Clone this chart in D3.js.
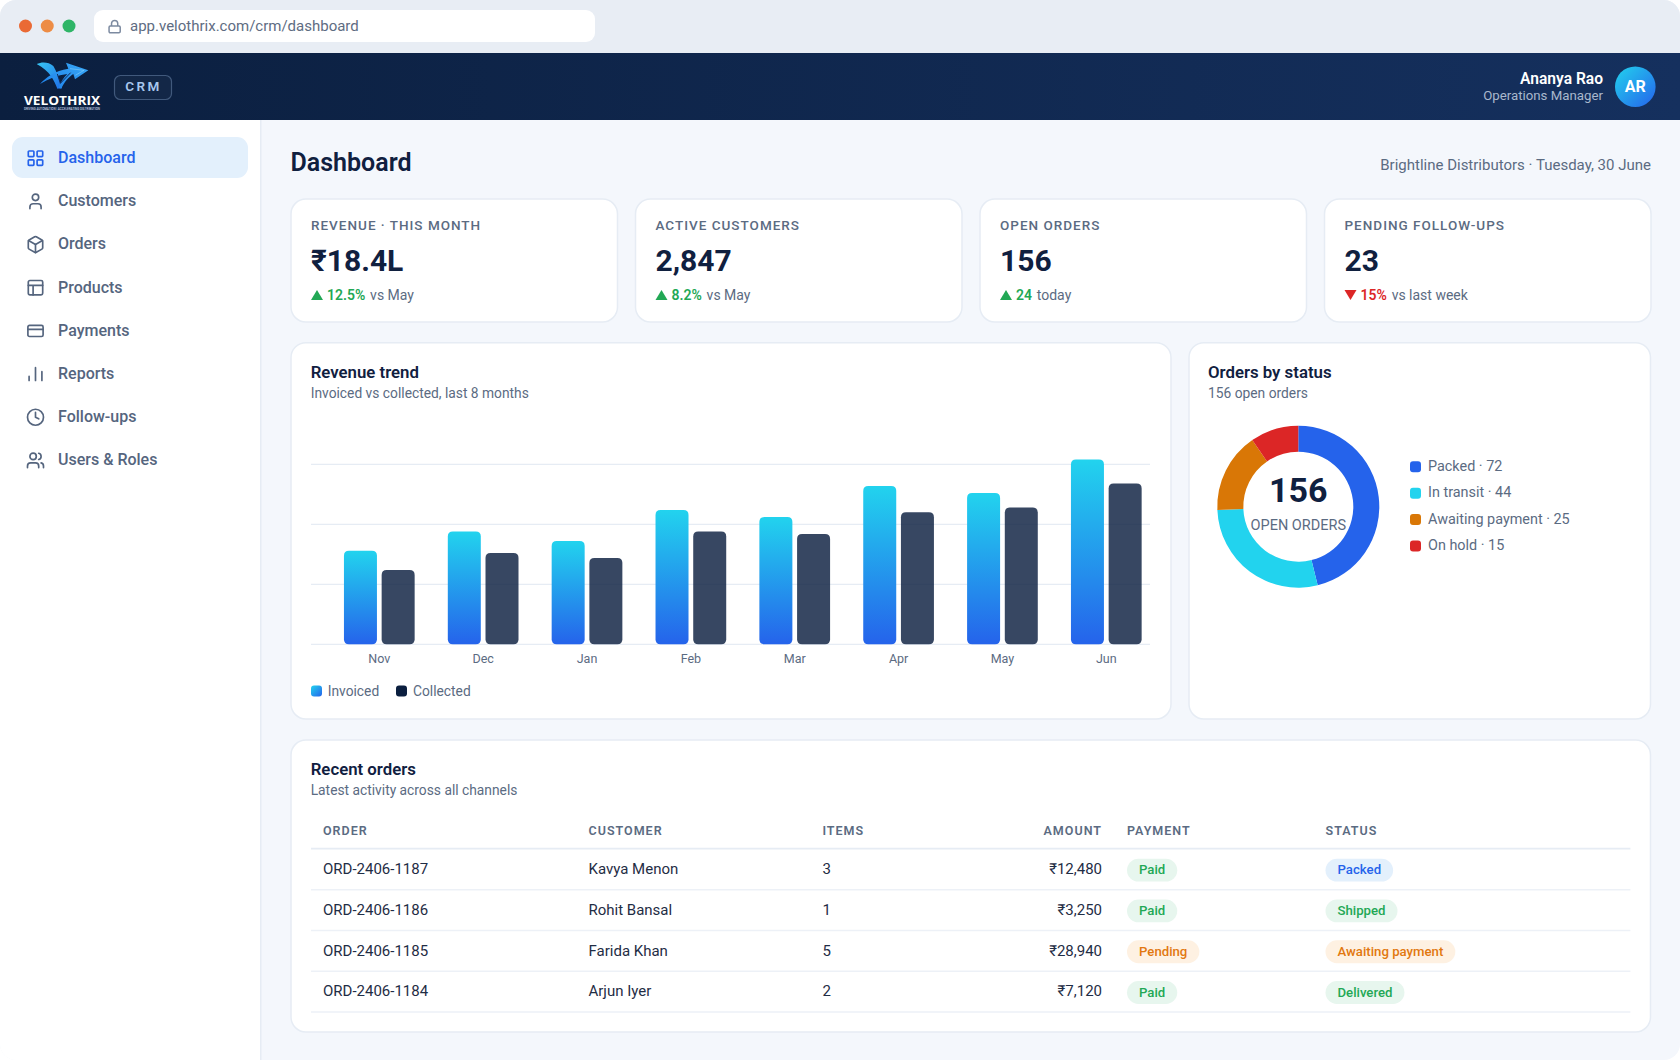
<!DOCTYPE html>
<html>
<head>
<meta charset="utf-8">
<script src="https://cdn.jsdelivr.net/npm/d3@7"></script>
<style>
html,body{margin:0;padding:0;background:#fff}
svg{display:block;font-family:Roboto,sans-serif}
</style>
</head>
<body>
<svg id="app" width="1680" height="1060" viewBox="0 0 1680 1060"></svg>
<script>
// ---- data ----
const months = ["Nov","Dec","Jan","Feb","Mar","Apr","May","Jun"];
const invoiced = [7.8,9.4,8.6,11.2,10.6,13.2,12.6,15.4];
const collected = [6.2,7.6,7.2,9.4,9.2,11.0,11.4,13.4];
const gridTicks = [0,5,10,15];
const statusLabels = ["Packed","In transit","Awaiting payment","On hold"];
const statusValues = [72,44,25,15];
const statusColors = ["#2563eb","#22d3ee","#d97706","#dc2626"];
const navLabels = ["Dashboard","Customers","Orders","Products","Payments","Reports","Follow-ups","Users & Roles"];
const kpiLabels = ["REVENUE · THIS MONTH","ACTIVE CUSTOMERS","OPEN ORDERS","PENDING FOLLOW-UPS"];
const kpiValues = ["₹18.4L","2,847","156","23"];
const kpiDeltas = ["12.5%","8.2%","24","15%"];
const kpiNotes = ["vs May","vs May","today","vs last week"];
const kpiUp = [true,true,true,false];
const tableHeads = ["ORDER","CUSTOMER","ITEMS","AMOUNT","PAYMENT","STATUS"];
const orderIds = ["ORD-2406-1187","ORD-2406-1186","ORD-2406-1185","ORD-2406-1184"];
const orderCustomers = ["Kavya Menon","Rohit Bansal","Farida Khan","Arjun Iyer"];
const orderItems = ["3","1","5","2"];
const orderAmounts = ["₹12,480","₹3,250","₹28,940","₹7,120"];
const orderPayments = ["Paid","Paid","Pending","Paid"];
const orderStatuses = ["Packed","Shipped","Awaiting payment","Delivered"];

// ---- palette ----
const INK="#10203f", MUTED="#5b6b82", LINE="#e6ecf4", BG="#f4f7fc", GREEN="#22a855", RED="#dc2626";
const pillStyle = {Paid:["#e7f6ee",GREEN],Shipped:["#e7f6ee",GREEN],Delivered:["#e7f6ee",GREEN],
  Pending:["#fef1e2","#e2780f"],"Awaiting payment":["#fef1e2","#e2780f"],Packed:["#e3f0fc","#2563eb"]};

const svg = d3.select("#app");
const defs = svg.append("defs");
function grad(id,x1,y1,x2,y2,stops){
  const g=defs.append("linearGradient").attr("id",id).attr("x1",x1).attr("y1",y1).attr("x2",x2).attr("y2",y2);
  stops.forEach((c,i)=>g.append("stop").attr("offset",i/(stops.length-1)).attr("stop-color",c));
}
grad("hdr",0,0,1,0,["#0b1f3f","#15305e"]);
grad("barG",0,0,0,1,["#22d3ee","#2563eb"]);
grad("avatar",0,0,1,1,["#22d3ee","#2563eb"]);
grad("swatch",0,0,1,1,["#22d3ee","#2563eb"]);
grad("logoA",0,0,1,1,["#38c6f4","#1f6fe8"]);
grad("logoB",0,1,1,0,["#1d7fe8","#38a8f8"]);
defs.append("clipPath").attr("id","win").append("rect").attr("width",1680).attr("height",1060).attr("rx",16);

function txt(parent,x,y,s,o={}){
  const t=parent.append("text").attr("x",x).attr("y",y-0.6).attr("dominant-baseline","central")
    .attr("font-size",o.size||14).attr("font-weight",o.weight||400).attr("fill",o.fill||MUTED)
    .attr("text-anchor",o.anchor||"start").text(s);
  if(o.ls) t.attr("letter-spacing",o.ls);
  return t;
}
function card(parent,x,y,w,h){
  parent.append("rect").attr("x",x).attr("y",y).attr("width",w).attr("height",h).attr("rx",15)
    .attr("fill","#fff").attr("stroke",LINE).attr("stroke-width",1.5);
}

const root = svg.append("g").attr("clip-path","url(#win)");
root.append("rect").attr("width",1680).attr("height",1060).attr("fill",BG);

// ---- browser chrome ----
root.append("rect").attr("width",1680).attr("height",53).attr("fill","#e8edf4");
const dotX=d3.scalePoint().domain(["#ea6a35","#ed8c45","#2fb567"]).range([25.5,69]);
root.selectAll(".dot").data(dotX.domain()).join("circle").attr("cx",d=>dotX(d)).attr("cy",26).attr("r",6.5).attr("fill",d=>d);
root.append("rect").attr("x",94).attr("y",10).attr("width",501).attr("height",32).attr("rx",9).attr("fill","#fff");
const lock=root.append("g").attr("transform","translate(107.2,19.2) scale(0.62)").attr("fill","none").attr("stroke","#7c8aa0").attr("stroke-width",2.4);
lock.append("rect").attr("x",3).attr("y",11).attr("width",18).attr("height",11).attr("rx",2);
lock.append("path").attr("d","M7 11V7a5 5 0 0 1 10 0v4");
txt(root,130,26.6,"app.velothrix.com/crm/dashboard",{size:15,fill:"#5e6c82"});

// ---- header ----
root.append("rect").attr("y",53).attr("width",1680).attr("height",67).attr("fill","url(#hdr)");
const logo=root.append("g").attr("transform","translate(20,58) scale(0.3333)");
logo.append("path").attr("fill","url(#logoA)").attr("d","M50 18 C65 11 86 11 100 24 C110 40 118 65 126 90 L112 92 C104 70 90 38 50 18Z");
logo.append("path").attr("fill","url(#logoB)").attr("d","M60 78 C78 58 105 38 145 32 L138 14 L205 37 L165 64 L160 48 C148 56 132 72 124 92 L116 90 C122 72 130 60 142 48 C112 52 85 62 60 78Z");
logo.append("path").attr("fill","none").attr("stroke","#0f2a5c").attr("stroke-width",3).attr("d","M112 48 L121 76 L152 44");
logo.append("path").attr("fill","none").attr("stroke","#8fd6fa").attr("stroke-width",1.6).attr("d","M150 32 L192 37 L166 52");
txt(root,62,100.8,"VELOTHRIX",{size:12.5,weight:700,fill:"#fff",anchor:"middle"}).attr("font-family","'Open Sans',sans-serif").attr("textLength",76).attr("lengthAdjust","spacingAndGlyphs");
txt(root,62,109.6,"DRIVING AUTOMATION | ACCELERATING DISTRIBUTION",{size:3.6,weight:500,fill:"#c9d6e8",anchor:"middle"}).attr("textLength",76).attr("lengthAdjust","spacingAndGlyphs");
root.append("rect").attr("x",114.5).attr("y",75.5).attr("width",57).attr("height",24).attr("rx",6)
  .attr("fill","#ffffff").attr("fill-opacity",0.03).attr("stroke","#41597c").attr("stroke-width",1.2);
txt(root,143.5,87,"CRM",{size:13.5,weight:600,fill:"#a8c8ee",anchor:"middle",ls:2.4});
txt(root,1603,79.4,"Ananya Rao",{size:15.6,weight:600,fill:"#fff",anchor:"end"});
txt(root,1603,95.6,"Operations Manager",{size:13.25,fill:"#a9b8cd",anchor:"end"});
root.append("circle").attr("cx",1635.3).attr("cy",86.7).attr("r",20.3).attr("fill","url(#avatar)");
txt(root,1635.3,87.4,"AR",{size:16,weight:700,fill:"#fff",anchor:"middle"});

// ---- sidebar ----
root.append("rect").attr("y",120).attr("width",260).attr("height",940).attr("fill","#fff");
root.append("rect").attr("x",260).attr("y",120).attr("width",1.5).attr("height",940).attr("fill",LINE);
root.append("rect").attr("x",12).attr("y",137).attr("width",236).attr("height",41).attr("rx",11).attr("fill","#e3f0fc");
const navY=d3.scalePoint().domain(navLabels).range([158.2,460.4]);
const iconDraw=[
 g=>[[3,3],[14,3],[14,14],[3,14]].forEach(p=>g.append("rect").attr("x",p[0]).attr("y",p[1]).attr("width",7).attr("height",7).attr("rx",1)),
 g=>{g.append("path").attr("d","M19 21v-2a4 4 0 0 0-4-4H9a4 4 0 0 0-4 4v2");g.append("circle").attr("cx",12).attr("cy",7).attr("r",4);},
 g=>{["M21 8a2 2 0 0 0-1-1.73l-7-4a2 2 0 0 0-2 0l-7 4A2 2 0 0 0 3 8v8a2 2 0 0 0 1 1.73l7 4a2 2 0 0 0 2 0l7-4A2 2 0 0 0 21 16Z","m3.3 7 8.7 5 8.7-5","M12 22V12"].forEach(d=>g.append("path").attr("d",d));},
 g=>{g.append("rect").attr("x",3).attr("y",3).attr("width",18).attr("height",18).attr("rx",2);g.append("path").attr("d","M3 9h18M9 21V9");},
 g=>{g.append("rect").attr("x",2.5).attr("y",5).attr("width",19).attr("height",14).attr("rx",2);g.append("path").attr("d","M2.5 10h19");},
 g=>{g.append("path").attr("d","M4 20v-5M12 20V4M20 20V9");},
 g=>{g.append("circle").attr("cx",12).attr("cy",12).attr("r",10);g.append("path").attr("d","M12 6v6l4 2");},
 g=>{["M16 21v-2a4 4 0 0 0-4-4H6a4 4 0 0 0-4 4v2","M22 21v-2a4 4 0 0 0-3-3.87","M16 3.13a4 4 0 0 1 0 7.75"].forEach(d=>g.append("path").attr("d",d));g.append("circle").attr("cx",9).attr("cy",7).attr("r",4);}
];
navLabels.forEach((n,i)=>{
  const active=i===0, c=active?"#2563eb":"#55657e";
  const g=root.append("g").attr("transform",`translate(${35.5-9.6},${navY(n)-9.6}) scale(0.8)`)
    .attr("fill","none").attr("stroke",c).attr("stroke-width",2.1).attr("stroke-linecap","round").attr("stroke-linejoin","round");
  iconDraw[i](g);
  txt(root,58,navY(n),n,{size:16,weight:500,fill:c});
});

// ---- page title ----
txt(root,290.5,162.6,"Dashboard",{size:25,weight:600,fill:INK});
txt(root,1651,165.9,"Brightline Distributors · Tuesday, 30 June",{size:15,fill:MUTED,anchor:"end"});

// ---- KPI cards ----
const kpiX=d3.scalePoint().domain(kpiLabels).range([291,1324.5]);
kpiLabels.forEach((l,i)=>{
  const x=kpiX(l), left=x+20;
  card(root,x,199,326.5,123);
  txt(root,left,225.7,l,{size:13.5,weight:500,fill:MUTED,ls:1});
  txt(root,left,261,kpiValues[i],{size:30,weight:700,fill:INK});
  const col=kpiUp[i]?GREEN:RED;
  const tri=kpiUp[i]?"M0 10L6 0L12 10Z":"M0 0L12 0L6 10Z";
  root.append("path").attr("transform",`translate(${left},290)`).attr("d",tri).attr("fill",col);
  const t=txt(root,left+16,295.6,"",{size:14});
  t.append("tspan").attr("fill",col).attr("font-weight",600).text(kpiDeltas[i]);
  t.append("tspan").attr("fill",MUTED).attr("dx",4.8).text(kpiNotes[i]);
});

// ---- Revenue trend ----
card(root,291,342.7,880,376.3);
txt(root,310.7,372.5,"Revenue trend",{size:16.8,weight:600,fill:INK});
txt(root,310.7,393.9,"Invoiced vs collected, last 8 months",{size:13.8});

const yScale=d3.scaleLinear().domain([0,15]).range([644.3,464.3]);
const xScale=d3.scalePoint().domain(months).range([379.3,1106.3]);
const barW=33, barGap=4.7;
const gridG=root.append("g").attr("transform","translate(311,0)")
  .call(d3.axisLeft(yScale).offset(0).tickValues(gridTicks).tickSize(-839).tickFormat(""));
gridG.select(".domain").remove();
gridG.selectAll("line").attr("stroke",LINE).attr("stroke-width",1.3);

function roundedBar(x,y,w,h,r){ return `M${x} ${y+h-r}V${y+r}Q${x} ${y} ${x+r} ${y}H${x+w-r}Q${x+w} ${y} ${x+w} ${y+r}V${y+h-r}Q${x+w} ${y+h} ${x+w-r} ${y+h}H${x+r}Q${x} ${y+h} ${x} ${y+h-r}Z`; }
root.append("g").selectAll("path").data(months).join("path")
  .attr("d",(m,i)=>roundedBar(xScale(m)-barGap/2-barW,yScale(invoiced[i]),barW,yScale(0)-yScale(invoiced[i]),5))
  .attr("fill","url(#barG)");
root.append("g").selectAll("path").data(months).join("path")
  .attr("d",(m,i)=>roundedBar(xScale(m)+barGap/2,yScale(collected[i]),barW,yScale(0)-yScale(collected[i]),5))
  .attr("fill","#0b1f3f").attr("fill-opacity",0.82);

const xAxisG=root.append("g").attr("transform","translate(0,644.3)")
  .call(d3.axisBottom(xScale).offset(0).tickSize(0).tickPadding(10));
xAxisG.select(".domain").remove();
xAxisG.selectAll("text").attr("font-family","Roboto,sans-serif").attr("font-size",12.5).attr("fill",MUTED);

root.append("rect").attr("x",311).attr("y",685.5).attr("width",11).attr("height",11).attr("rx",3).attr("fill","url(#swatch)");
txt(root,327.7,691.5,"Invoiced",{size:13.8});
root.append("rect").attr("x",396).attr("y",685.5).attr("width",11).attr("height",11).attr("rx",3).attr("fill","#0b1f3f");
txt(root,413,691.5,"Collected",{size:13.8});

// ---- Orders by status ----
card(root,1189,342.7,461.5,376.3);
txt(root,1208,372.5,"Orders by status",{size:16.8,weight:600,fill:INK});
txt(root,1208,393.9,"156 open orders",{size:13.8});
const pie=d3.pie().sort(null)(statusValues);
const arc=d3.arc().innerRadius(55).outerRadius(81);
const donut=root.append("g").attr("transform","translate(1298.3,506.7)");
donut.selectAll("path").data(pie).join("path").attr("d",arc).attr("fill",(d,i)=>statusColors[i]);
txt(donut,0,-16.3,d3.sum(statusValues),{size:34,weight:700,fill:INK,anchor:"middle"});
txt(donut,0,19.2,"OPEN ORDERS",{size:14.5,anchor:"middle"});
const legY=d3.scalePoint().domain(statusLabels).range([466.7,546]);
statusLabels.forEach((l,i)=>{
  root.append("rect").attr("x",1410).attr("y",legY(l)-5.5).attr("width",11).attr("height",11).attr("rx",3).attr("fill",statusColors[i]);
  txt(root,1428,legY(l)+0.4,`${l} · ${statusValues[i]}`,{size:14.4});
});

// ---- Recent orders ----
card(root,291,740,1359.5,292);
txt(root,310.7,769.7,"Recent orders",{size:16.8,weight:600,fill:INK});
txt(root,310.7,791,"Latest activity across all channels",{size:13.8});
const colX=[323,588.5,822.4,1102,1127,1325.5];
tableHeads.forEach((h,i)=>txt(root,colX[i],830.6,h,{size:12.5,weight:600,fill:MUTED,ls:1,anchor:i===3?"end":"start"}));
root.append("line").attr("x1",311).attr("x2",1630.4).attr("y1",848.6).attr("y2",848.6).attr("stroke",LINE).attr("stroke-width",1.8);
const rowY=d3.scalePoint().domain(orderIds).range([869.7,992]);
function pill(x,y,s){
  const st=pillStyle[s];
  const r=root.append("rect").attr("x",x).attr("y",y-10.9).attr("height",22.8).attr("rx",11.4).attr("fill",st[0]);
  const t=txt(root,x+12,y+0.6,s,{size:13.2,weight:500,fill:st[1]});
  r.attr("width",t.node().getComputedTextLength()+24);
}
orderIds.forEach((id,i)=>{
  const y=rowY(id);
  txt(root,colX[0],y,id,{size:15,fill:"#1f2d45"});
  txt(root,colX[1],y,orderCustomers[i],{size:15,fill:"#1f2d45"});
  txt(root,colX[2],y,orderItems[i],{size:15,fill:"#1f2d45"});
  txt(root,colX[3],y,orderAmounts[i],{size:15,fill:"#1f2d45",anchor:"end"});
  pill(colX[4],y,orderPayments[i]);
  pill(colX[5],y,orderStatuses[i]);
  root.append("line").attr("x1",311).attr("x2",1630.4).attr("y1",y+20).attr("y2",y+20).attr("stroke","#edf1f7").attr("stroke-width",1.5);
});
</script>
</body>
</html>
